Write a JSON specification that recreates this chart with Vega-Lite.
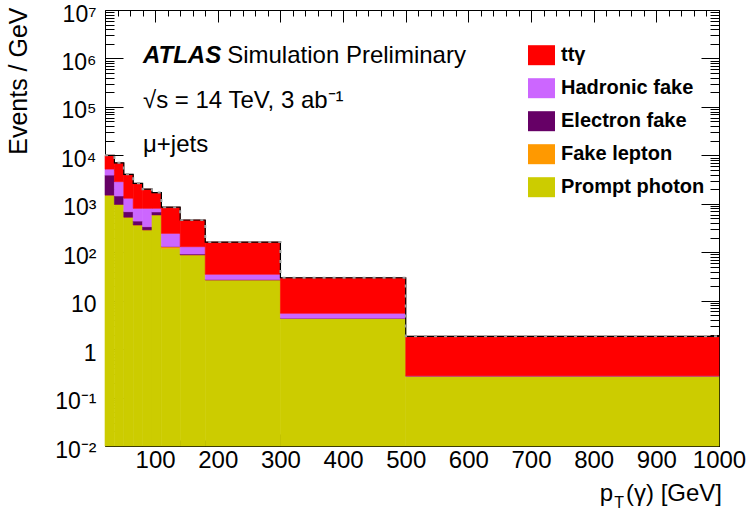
{
  "$schema": "https://vega.github.io/schema/vega-lite/v6.json",
  "width": 614,
  "height": 436,
  "autosize": {"type": "none"},
  "padding": {"left": 105, "top": 10, "right": 30, "bottom": 66},
  "background": "white",
  "config": {
    "view": {"stroke": "black", "strokeWidth": 1},
    "font": "Liberation Sans",
    "axis": {"tickColor": "black", "tickWidth": 1, "domain": false, "grid": false, "zindex": 2, "labelFont": "Liberation Sans", "labelColor": "black", "titleColor": "black", "titleFont": "Liberation Sans", "labelFlush": false, "labelOverlap": false, "labelBound": false}
  },
  "data": {"values": [
    {"proc": "Prompt photon", "x0": 20, "x1": 35, "lo": 0.01, "hi": 1500},
    {"proc": "Fake lepton", "x0": 20, "x1": 35, "lo": 1500, "hi": 1510},
    {"proc": "Electron fake", "x0": 20, "x1": 35, "lo": 1510, "hi": 3900},
    {"proc": "Hadronic fake", "x0": 20, "x1": 35, "lo": 3900, "hi": 5200},
    {"proc": "ttγ", "x0": 20, "x1": 35, "lo": 5200, "hi": 10000},
    {"proc": "Prompt photon", "x0": 35, "x1": 50, "lo": 0.01, "hi": 966},
    {"proc": "Fake lepton", "x0": 35, "x1": 50, "lo": 966, "hi": 970},
    {"proc": "Electron fake", "x0": 35, "x1": 50, "lo": 970, "hi": 1450},
    {"proc": "Hadronic fake", "x0": 35, "x1": 50, "lo": 1450, "hi": 2860},
    {"proc": "ttγ", "x0": 35, "x1": 50, "lo": 2860, "hi": 7000},
    {"proc": "Prompt photon", "x0": 50, "x1": 65, "lo": 0.01, "hi": 525},
    {"proc": "Fake lepton", "x0": 50, "x1": 65, "lo": 525, "hi": 528},
    {"proc": "Electron fake", "x0": 50, "x1": 65, "lo": 528, "hi": 686},
    {"proc": "Hadronic fake", "x0": 50, "x1": 65, "lo": 686, "hi": 1300},
    {"proc": "ttγ", "x0": 50, "x1": 65, "lo": 1300, "hi": 4050},
    {"proc": "Prompt photon", "x0": 65, "x1": 80, "lo": 0.01, "hi": 363},
    {"proc": "Fake lepton", "x0": 65, "x1": 80, "lo": 363, "hi": 365},
    {"proc": "Electron fake", "x0": 65, "x1": 80, "lo": 365, "hi": 440},
    {"proc": "Hadronic fake", "x0": 65, "x1": 80, "lo": 440, "hi": 805},
    {"proc": "ttγ", "x0": 65, "x1": 80, "lo": 805, "hi": 2640},
    {"proc": "Prompt photon", "x0": 80, "x1": 95, "lo": 0.01, "hi": 287},
    {"proc": "Fake lepton", "x0": 80, "x1": 95, "lo": 287, "hi": 289},
    {"proc": "Electron fake", "x0": 80, "x1": 95, "lo": 289, "hi": 336},
    {"proc": "Hadronic fake", "x0": 80, "x1": 95, "lo": 336, "hi": 805},
    {"proc": "ttγ", "x0": 80, "x1": 95, "lo": 805, "hi": 2000},
    {"proc": "Prompt photon", "x0": 95, "x1": 110, "lo": 0.01, "hi": 587},
    {"proc": "Fake lepton", "x0": 95, "x1": 110, "lo": 587, "hi": 590},
    {"proc": "Electron fake", "x0": 95, "x1": 110, "lo": 590, "hi": 680},
    {"proc": "Hadronic fake", "x0": 95, "x1": 110, "lo": 680, "hi": 805},
    {"proc": "ttγ", "x0": 95, "x1": 110, "lo": 805, "hi": 1700},
    {"proc": "Prompt photon", "x0": 110, "x1": 140, "lo": 0.01, "hi": 121},
    {"proc": "Fake lepton", "x0": 110, "x1": 140, "lo": 121, "hi": 130},
    {"proc": "Electron fake", "x0": 110, "x1": 140, "lo": 130, "hi": 131},
    {"proc": "Hadronic fake", "x0": 110, "x1": 140, "lo": 131, "hi": 245},
    {"proc": "ttγ", "x0": 110, "x1": 140, "lo": 245, "hi": 850},
    {"proc": "Prompt photon", "x0": 140, "x1": 180, "lo": 0.01, "hi": 87.5},
    {"proc": "Fake lepton", "x0": 140, "x1": 180, "lo": 87.5, "hi": 88.5},
    {"proc": "Electron fake", "x0": 140, "x1": 180, "lo": 88.5, "hi": 92},
    {"proc": "Hadronic fake", "x0": 140, "x1": 180, "lo": 92, "hi": 130},
    {"proc": "ttγ", "x0": 140, "x1": 180, "lo": 130, "hi": 462},
    {"proc": "Prompt photon", "x0": 180, "x1": 300, "lo": 0.01, "hi": 26.7},
    {"proc": "Fake lepton", "x0": 180, "x1": 300, "lo": 26.7, "hi": 26.9},
    {"proc": "Electron fake", "x0": 180, "x1": 300, "lo": 26.9, "hi": 27.2},
    {"proc": "Hadronic fake", "x0": 180, "x1": 300, "lo": 27.2, "hi": 35},
    {"proc": "ttγ", "x0": 180, "x1": 300, "lo": 35, "hi": 162},
    {"proc": "Prompt photon", "x0": 300, "x1": 500, "lo": 0.01, "hi": 4.3},
    {"proc": "Fake lepton", "x0": 300, "x1": 500, "lo": 4.3, "hi": 4.32},
    {"proc": "Electron fake", "x0": 300, "x1": 500, "lo": 4.32, "hi": 4.35},
    {"proc": "Hadronic fake", "x0": 300, "x1": 500, "lo": 4.35, "hi": 5.48},
    {"proc": "ttγ", "x0": 300, "x1": 500, "lo": 5.48, "hi": 29.7},
    {"proc": "Prompt photon", "x0": 500, "x1": 1000, "lo": 0.01, "hi": 0.278},
    {"proc": "Fake lepton", "x0": 500, "x1": 1000, "lo": 0.278, "hi": 0.279},
    {"proc": "Electron fake", "x0": 500, "x1": 1000, "lo": 0.279, "hi": 0.28},
    {"proc": "Hadronic fake", "x0": 500, "x1": 1000, "lo": 0.28, "hi": 0.282},
    {"proc": "ttγ", "x0": 500, "x1": 1000, "lo": 0.282, "hi": 1.84}
  ]},
  "resolve": {"axis": {"x": "independent", "y": "independent"}},
  "layer": [
    {
      "mark": {"type": "bar", "strokeWidth": 0.6, "opacity": 1},
      "encoding": {
        "x": {"field": "x0", "type": "quantitative", "scale": {"domain": [20, 1000], "nice": false, "zero": false},
          "axis": {"orient": "bottom", "values": [100, 200, 300, 400, 500, 600, 700, 800, 900, 1000], "format": "d", "tickSize": -12, "labelPadding": 14, "labelFontSize": 24, "title": null}},
        "x2": {"field": "x1"},
        "y": {"field": "hi", "type": "quantitative", "scale": {"type": "log", "domain": [0.01, 10000000], "nice": false},
          "axis": {"orient": "left", "values": [0.01, 0.1, 1, 10, 100, 1000, 10000, 100000, 1000000, 10000000], "tickSize": -18, "labelPadding": 27, "labelFontSize": 23, "labelOffset": 4,
            "labelExpr": "datum.value < 0.05 ? '10⁻²' : datum.value < 0.5 ? '10⁻¹' : datum.value < 5 ? '1' : datum.value < 50 ? '10' : datum.value < 500 ? '10²' : datum.value < 5000 ? '10³' : datum.value < 50000 ? '10⁴' : datum.value < 500000 ? '10⁵' : datum.value < 5000000 ? '10⁶' : '10⁷'",
            "title": "Events / GeV", "titleFontSize": 25, "titleFontWeight": "normal", "titleAngle": -90, "titleAlign": "right", "titleBaseline": "alphabetic", "titleX": -79, "titleY": -3}},
        "y2": {"field": "lo"},
        "color": {"field": "proc", "type": "nominal",
          "scale": {"domain": ["ttγ", "Hadronic fake", "Electron fake", "Fake lepton", "Prompt photon"], "range": ["#ff0000", "#cc66ff", "#660066", "#ff9900", "#cccc00"]},
          "legend": {"orient": "none", "legendX": 423, "legendY": 31.7, "title": null, "symbolType": "M-1,-0.7407H1V0.7407H-1Z", "symbolSize": 729, "symbolStrokeWidth": 0, "symbolOpacity": 1, "labelFont": "Liberation Sans", "labelFontSize": 20, "labelFontWeight": "bold", "labelColor": "black", "labelOffset": 6, "rowPadding": 9, "labelLimit": 300}},
        "stroke": {"field": "proc", "type": "nominal",
          "scale": {"domain": ["ttγ", "Hadronic fake", "Electron fake", "Fake lepton", "Prompt photon"], "range": ["#ff0000", "#cc66ff", "#660066", "#ff9900", "#cccc00"]},
          "legend": null}
      }
    },
    {
      "transform": [{"filter": "datum.proc === 'ttγ'"}, {"fold": ["x0", "x1"], "as": ["edge", "xv"]}],
      "mark": {"type": "line", "color": "black", "strokeWidth": 1.2},
      "encoding": {
        "x": {"field": "xv", "type": "quantitative", "scale": {"domain": [20, 1000], "nice": false, "zero": false},
          "axis": {"orient": "bottom", "values": [40, 60, 80, 120, 140, 160, 180, 220, 240, 260, 280, 320, 340, 360, 380, 420, 440, 460, 480, 520, 540, 560, 580, 620, 640, 660, 680, 720, 740, 760, 780, 820, 840, 860, 880, 920, 940, 960, 980], "tickSize": -6, "labels": false, "title": null}},
        "y": {"field": "hi", "type": "quantitative", "scale": {"type": "log", "domain": [0.01, 10000000], "nice": false},
          "axis": {"orient": "left", "values": [0.02, 0.03, 0.04, 0.05, 0.06, 0.07, 0.08, 0.09, 0.2, 0.3, 0.4, 0.5, 0.6, 0.7, 0.8, 0.9, 2, 3, 4, 5, 6, 7, 8, 9, 20, 30, 40, 50, 60, 70, 80, 90, 200, 300, 400, 500, 600, 700, 800, 900, 2000, 3000, 4000, 5000, 6000, 7000, 8000, 9000, 20000, 30000, 40000, 50000, 60000, 70000, 80000, 90000, 200000, 300000, 400000, 500000, 600000, 700000, 800000, 900000, 2000000, 3000000, 4000000, 5000000, 6000000, 7000000, 8000000, 9000000], "tickSize": -9, "labels": false, "title": null}},
        "order": [{"field": "xv", "type": "quantitative"}, {"field": "hi", "type": "quantitative", "sort": "descending"}]
      }
    },
    {
      "transform": [{"filter": "datum.proc === 'ttγ'"}, {"fold": ["x0", "x1"], "as": ["edge", "xv"]}],
      "mark": {"type": "line", "color": "#999999", "strokeWidth": 2, "strokeDash": [3, 7]},
      "encoding": {
        "x": {"field": "xv", "type": "quantitative", "scale": {"domain": [20, 1000], "nice": false, "zero": false},
          "axis": {"orient": "top", "values": [100, 200, 300, 400, 500, 600, 700, 800, 900, 1000], "tickSize": -12, "labels": false, "title": null}},
        "y": {"field": "hi", "type": "quantitative", "scale": {"type": "log", "domain": [0.01, 10000000], "nice": false},
          "axis": {"orient": "right", "values": [0.01, 0.1, 1, 10, 100, 1000, 10000, 100000, 1000000, 10000000], "tickSize": -18, "labels": false, "title": null}},
        "order": [{"field": "xv", "type": "quantitative"}, {"field": "hi", "type": "quantitative", "sort": "descending"}]
      }
    },
    {
      "data": {"values": [{}]},
      "mark": {"type": "text", "text": "ATLAS", "align": "left", "baseline": "alphabetic", "font": "Liberation Sans", "fontSize": 24, "fontStyle": "italic", "fontWeight": "bold", "color": "black"},
      "encoding": {
        "x": {"datum": 80.6, "type": "quantitative", "scale": {"domain": [20, 1000], "nice": false, "zero": false},
          "axis": {"orient": "top", "values": [40, 60, 80, 120, 140, 160, 180, 220, 240, 260, 280, 320, 340, 360, 380, 420, 440, 460, 480, 520, 540, 560, 580, 620, 640, 660, 680, 720, 740, 760, 780, 820, 840, 860, 880, 920, 940, 960, 980], "tickSize": -6, "labels": false, "title": null}},
        "y": {"datum": 805000, "type": "quantitative", "scale": {"type": "log", "domain": [0.01, 10000000], "nice": false},
          "axis": {"orient": "right", "values": [0.02, 0.03, 0.04, 0.05, 0.06, 0.07, 0.08, 0.09, 0.2, 0.3, 0.4, 0.5, 0.6, 0.7, 0.8, 0.9, 2, 3, 4, 5, 6, 7, 8, 9, 20, 30, 40, 50, 60, 70, 80, 90, 200, 300, 400, 500, 600, 700, 800, 900, 2000, 3000, 4000, 5000, 6000, 7000, 8000, 9000, 20000, 30000, 40000, 50000, 60000, 70000, 80000, 90000, 200000, 300000, 400000, 500000, 600000, 700000, 800000, 900000, 2000000, 3000000, 4000000, 5000000, 6000000, 7000000, 8000000, 9000000], "tickSize": -9, "labels": false, "title": null}}
      }
    },
    {
      "data": {"values": [{}]},
      "mark": {"type": "text", "text": "Simulation Preliminary", "align": "left", "baseline": "alphabetic", "font": "Liberation Sans", "fontSize": 24, "color": "black"},
      "encoding": {
        "x": {"datum": 215, "type": "quantitative", "scale": {"domain": [20, 1000], "nice": false, "zero": false}, "axis": null},
        "y": {"datum": 805000, "type": "quantitative", "scale": {"type": "log", "domain": [0.01, 10000000], "nice": false}, "axis": null}
      }
    },
    {
      "data": {"values": [{}]},
      "mark": {"type": "text", "text": "√s = 14 TeV, 3 ab⁻¹", "align": "left", "baseline": "alphabetic", "font": "Liberation Sans", "fontSize": 24, "color": "black"},
      "encoding": {
        "x": {"datum": 80.6, "type": "quantitative", "scale": {"domain": [20, 1000], "nice": false, "zero": false}, "axis": null},
        "y": {"datum": 94800, "type": "quantitative", "scale": {"type": "log", "domain": [0.01, 10000000], "nice": false}, "axis": null}
      }
    },
    {
      "data": {"values": [{}]},
      "mark": {"type": "text", "text": "μ+jets", "align": "left", "baseline": "alphabetic", "font": "Liberation Sans", "fontSize": 24, "color": "black"},
      "encoding": {
        "x": {"datum": 80.6, "type": "quantitative", "scale": {"domain": [20, 1000], "nice": false, "zero": false}, "axis": null},
        "y": {"datum": 11700, "type": "quantitative", "scale": {"type": "log", "domain": [0.01, 10000000], "nice": false}, "axis": null}
      }
    },
    {
      "data": {"values": [{}]},
      "mark": {"type": "text", "text": "(γ) [GeV]", "align": "right", "baseline": "alphabetic", "font": "Liberation Sans", "fontSize": 24, "color": "black"},
      "encoding": {
        "x": {"datum": 1004.8, "type": "quantitative", "scale": {"domain": [20, 1000], "nice": false, "zero": false}, "axis": null},
        "y": {"datum": 0.00073, "type": "quantitative", "scale": {"type": "log", "domain": [0.01, 10000000], "nice": false}, "axis": null}
      }
    },
    {
      "data": {"values": [{}]},
      "mark": {"type": "text", "text": "T", "align": "right", "baseline": "alphabetic", "font": "Liberation Sans", "fontSize": 16, "color": "black"},
      "encoding": {
        "x": {"datum": 848.4, "type": "quantitative", "scale": {"domain": [20, 1000], "nice": false, "zero": false}, "axis": null},
        "y": {"datum": 0.000524, "type": "quantitative", "scale": {"type": "log", "domain": [0.01, 10000000], "nice": false}, "axis": null}
      }
    },
    {
      "data": {"values": [{}]},
      "mark": {"type": "text", "text": "p", "align": "right", "baseline": "alphabetic", "font": "Liberation Sans", "fontSize": 24, "color": "black"},
      "encoding": {
        "x": {"datum": 830.9, "type": "quantitative", "scale": {"domain": [20, 1000], "nice": false, "zero": false}, "axis": null},
        "y": {"datum": 0.00073, "type": "quantitative", "scale": {"type": "log", "domain": [0.01, 10000000], "nice": false}, "axis": null}
      }
    }
  ]
}
